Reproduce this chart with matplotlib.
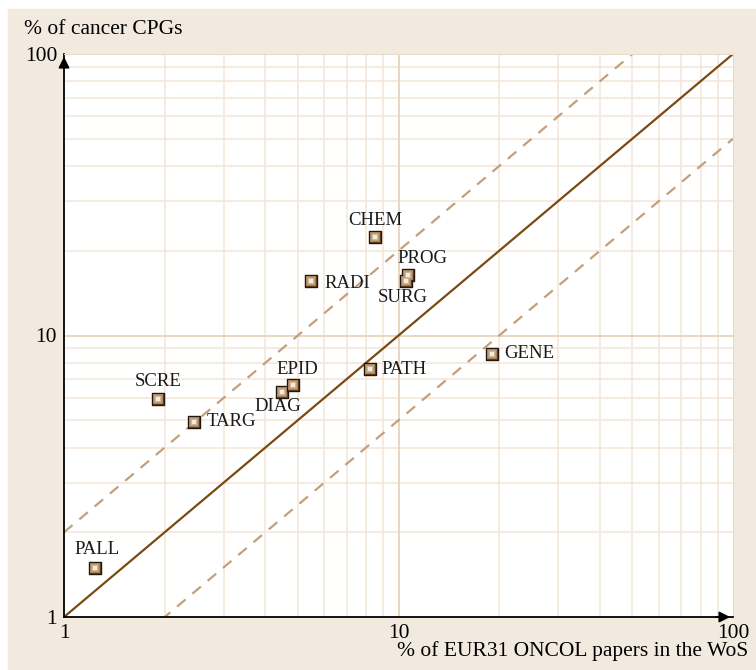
import matplotlib.pyplot as plt
from matplotlib.patches import Rectangle
import matplotlib.colors as mcolors
import numpy as np

plt.rcParams['font.family'] = ['Liberation Serif', 'DejaVu Serif']

# CPG share vs. paper share per research domain
labels = ['PALL', 'SCRE', 'TARG', 'DIAG', 'EPID', 'PATH', 'GENE',
          'RADI', 'CHEM', 'PROG', 'SURG']
papers = [1.24, 1.91, 2.45, 4.49, 4.85, 8.2, 19.0, 5.49, 8.5, 10.7, 10.5]
cpgs = [1.49, 5.95, 4.93, 6.3, 6.67, 7.6, 8.6, 15.6, 22.4, 16.4, 15.6]

# label placement (offset in pixels, horizontal alignment)
offsets = {
    'PALL': ((2, 19), 'center'), 'SCRE': ((0, 17), 'center'),
    'TARG': ((12, 0), 'left'), 'DIAG': ((-4, -15), 'center'),
    'EPID': ((4, 16), 'center'), 'PATH': ((12, 0), 'left'),
    'GENE': ((13, 0), 'left'), 'RADI': ((13, -2), 'left'),
    'CHEM': ((0, 16), 'center'), 'PROG': ((14, 17), 'center'),
    'SURG': ((-3, -16), 'center'),
}

beige = '#f2eadf'
grid_c = '#f3e8da'

fig = plt.figure(figsize=(7.56, 6.70), dpi=100, facecolor='white')
bg = Rectangle((8 / 756, 0), 1, 1 - 9 / 670, transform=fig.transFigure,
               color=beige, zorder=-10)
fig.add_artist(bg)

ax = fig.add_axes([64 / 756, 53 / 670, (733 - 64) / 756, (617 - 54) / 670])
ax.set_facecolor('white')
ax.set_xscale('log')
ax.set_yscale('log')
ax.set_xlim(1, 100)
ax.set_ylim(1, 100)

# log grid
for v in list(range(2, 10)) + list(range(20, 100, 10)):
    ax.axvline(v, color=grid_c, lw=1.2, zorder=0)
    ax.axhline(v, color=grid_c, lw=1.2, zorder=0)
ax.axvline(10, color='#e8d7c0', lw=1.4, zorder=0)
ax.axhline(10, color='#e8d7c0', lw=1.4, zorder=0)

# reference lines: parity and factor of two
xx = np.array([1, 100])
ax.plot(xx, xx, color='#7a4a12', lw=1.6, zorder=2)
ax.plot(xx, 2 * xx, color='#c4a07a', lw=1.6, ls=(0, (5, 4)), zorder=2)
ax.plot(xx, xx / 2, color='#c4a07a', lw=1.6, ls=(0, (5, 4)), zorder=2)

# shaded square markers: dark rim, then lighter squares towards the centre
ax.scatter(papers, cpgs, marker='s', s=72, c='#6e4418',
           edgecolors='#24160a', linewidths=1.0, zorder=4)
dark = np.array(mcolors.to_rgb('#7d4f22'))
light = np.array(mcolors.to_rgb('#f6ead8'))
sizes = [56, 42, 30, 20, 12, 6]
for i, s in enumerate(sizes):
    t = (i + 1) / len(sizes)
    ax.scatter(papers, cpgs, marker='s', s=s, c=[dark + (light - dark) * t],
               linewidths=0, zorder=5 + i)

for name, x, y in zip(labels, papers, cpgs):
    (dx, dy), ha = offsets[name]
    ax.annotate(name, (x, y), xytext=(dx, dy), textcoords='offset pixels',
                ha=ha, va='center', fontsize=13.5, color='#1a1a1a',
                zorder=12)

for s in ['top', 'right']:
    ax.spines[s].set_color('#eadbc6')
for s in ['left', 'bottom']:
    ax.spines[s].set_color('black')
    ax.spines[s].set_linewidth(1.3)

ax.tick_params(which='both', length=0)
ax.set_xticks([1, 10, 100])
ax.set_xticklabels(['1', '10', '100'])
ax.set_yticks([1, 10, 100])
ax.set_yticklabels(['1', '10', '100'])
ax.set_xticks([], minor=True)
ax.set_yticks([], minor=True)
ax.tick_params(axis='x', pad=5, labelsize=15.5)
ax.tick_params(axis='y', pad=5, labelsize=15.5)

# axis arrows
ax.annotate('', xy=(1, 0), xytext=(0.97, 0), xycoords='axes fraction',
            arrowprops=dict(arrowstyle='-|>', color='black', lw=1.3,
                            mutation_scale=16), annotation_clip=False)
ax.annotate('', xy=(0, 1), xytext=(0, 0.97), xycoords='axes fraction',
            arrowprops=dict(arrowstyle='-|>', color='black', lw=1.3,
                            mutation_scale=16), annotation_clip=False)

fig.text(24 / 756, 1 - 30 / 670, '% of cancer CPGs', fontsize=15.5,
         ha='left', va='center')
fig.text(748 / 756, 1 - 651 / 670, '% of EUR31 ONCOL papers in the WoS',
         fontsize=15.5, ha='right', va='center')

fig.savefig('out.png', dpi=100, facecolor=fig.get_facecolor())
